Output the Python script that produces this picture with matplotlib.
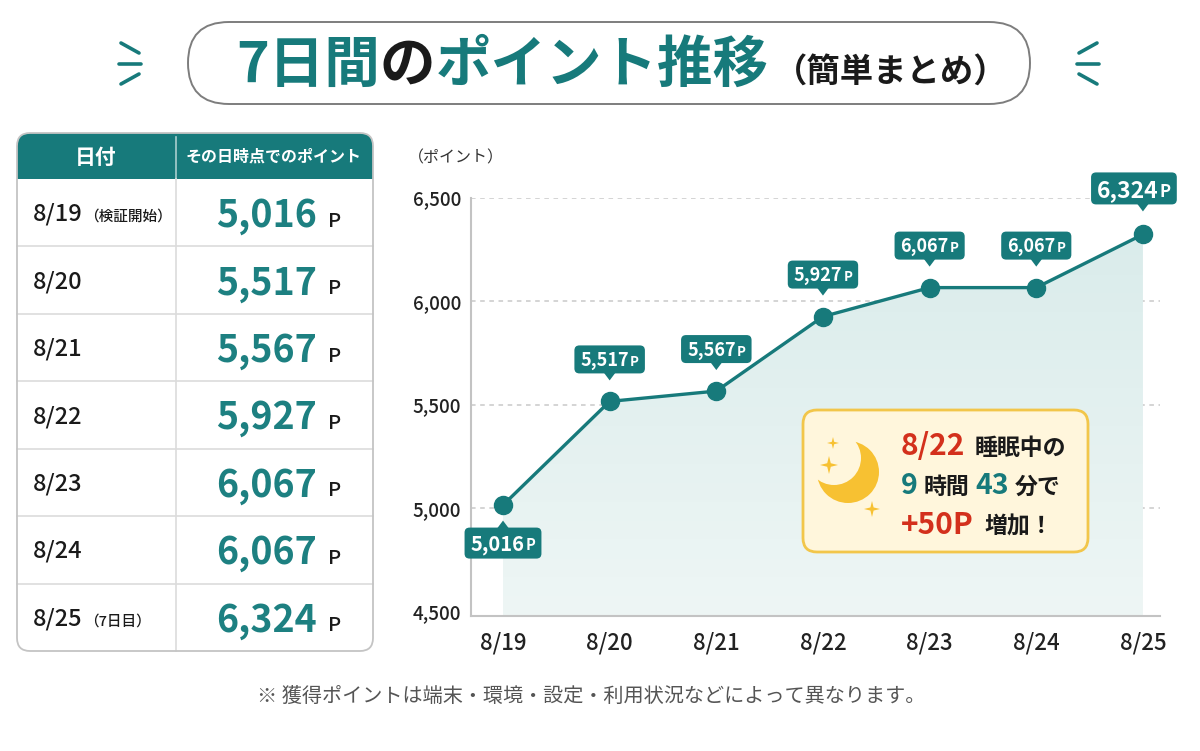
import matplotlib
matplotlib.use('Agg')
import matplotlib.pyplot as plt
from matplotlib.patches import FancyBboxPatch, Polygon, Circle, Rectangle
from matplotlib.colors import LinearSegmentedColormap
import numpy as np

plt.rcParams['font.family'] = ['Noto Sans CJK JP', 'DejaVu Sans']

# ---------------- data ----------------
dates = ['8/19', '8/20', '8/21', '8/22', '8/23', '8/24', '8/25']
points = [5016, 5517, 5567, 5927, 6067, 6067, 6324]
date_notes = ['（検証開始）', '', '', '', '', '', '（7日目）']
yticks = [4500, 5000, 5500, 6000, 6500]
ytick_labels = ['4,500', '5,000', '5,500', '6,000', '6,500']
title_parts = ['7日間', 'の', 'ポイント推移', '（簡単まとめ）']
table_headers = ['日付', 'その日時点でのポイント']
y_unit = '（ポイント）'
note_lines = [['8/22', '睡眠中の'], ['9', '時間', '43', '分で'], ['+50P', '増加！']]
footnote = '※ 獲得ポイントは端末・環境・設定・利用状況などによって異なります。'

TEAL = '#177a7b'
TEAL2 = '#1d8081'
BLACK = '#1a1a1a'
RED = '#d3301c'
W, H = 1200, 751

fig = plt.figure(figsize=(12, 7.51), dpi=100)
fig.patch.set_facecolor('white')


def px_rect(x0, y0, x1, y1):
    return [x0 / W, 1 - y1 / H, (x1 - x0) / W, (y1 - y0) / H]


ax = fig.add_axes(px_rect(471, 198, 1160, 616))
ov = fig.add_axes([0, 0, 1, 1])
ov.set_xlim(0, W)
ov.set_ylim(H, 0)
ov.axis('off')
ov.set_zorder(5)

R = fig.canvas.get_renderer()


def seq(pieces, x, y, align='left', draw=True):
    ts = []
    for p in pieces:
        s, c, sz, w = p[:4]
        gap = p[4] if len(p) > 4 else 0
        t = ov.text(0, y, s, color=c, fontsize=sz, fontweight=w,
                    va='baseline', ha='left', zorder=20)
        ts.append((t, t.get_window_extent(R).width, gap))
    total = sum(w + g for _, w, g in ts) - ts[-1][2]
    if align == 'center':
        x0 = x - total / 2
    elif align == 'right':
        x0 = x - total
    else:
        x0 = x
    for t, w, g in ts:
        t.set_x(x0)
        x0 += w + g
        if not draw:
            t.remove()
    return total


# ---------------- title ----------------
ov.add_patch(FancyBboxPatch((188, 22), 842, 82,
                            boxstyle='round,pad=0,rounding_size=41',
                            fc='white', ec='#7d7d7d', lw=1.4, zorder=2))
seq([(title_parts[0], TEAL, 40, 'bold'),
     (title_parts[1], BLACK, 40, 'bold'),
     (title_parts[2], TEAL, 40, 'bold', 6),
     (title_parts[3], BLACK, 24, 'bold')], 622, 82, 'center')

for sgn, xc in [(1, 130), (-1, 1088)]:
    ov.plot([xc - sgn * 9, xc + sgn * 9], [43, 53], color=TEAL, lw=2.6,
            solid_capstyle='round')
    ov.plot([xc - sgn * 11, xc + sgn * 11], [64, 64], color=TEAL, lw=2.6,
            solid_capstyle='round')
    ov.plot([xc - sgn * 9, xc + sgn * 9], [84, 74], color=TEAL, lw=2.6,
            solid_capstyle='round')

# ---------------- table ----------------
tx0, tx1, ty0, ty1 = 17, 373, 133, 651
hy = 179
colx = 176
ov.add_patch(FancyBboxPatch((tx0, ty0), tx1 - tx0, ty1 - ty0,
                            boxstyle='round,pad=0,rounding_size=13',
                            fc='white', ec='none', zorder=2))
ov.add_patch(FancyBboxPatch((tx0, ty0), tx1 - tx0, 40,
                            boxstyle='round,pad=0,rounding_size=13',
                            fc=TEAL, ec='none', zorder=3))
ov.add_patch(Rectangle((tx0, ty0 + 20), tx1 - tx0, hy - ty0 - 20,
                       fc=TEAL, ec='none', zorder=3))
ov.plot([colx, colx], [ty0 + 4, hy], color='#a9cfcf', lw=1.2, zorder=4)
nrow = len(dates)
rh = (ty1 - hy) / nrow
for k in range(1, nrow):
    ov.plot([tx0, tx1], [hy + k * rh] * 2, color='#dcdcdc', lw=1.2, zorder=4)
ov.plot([colx, colx], [hy, ty1], color='#dcdcdc', lw=1.2, zorder=4)
ov.add_patch(FancyBboxPatch((tx0, ty0), tx1 - tx0, ty1 - ty0,
                            boxstyle='round,pad=0,rounding_size=13',
                            fc='none', ec='#c4c4c4', lw=1.3, zorder=6))
ov.text(96, 157, table_headers[0], color='white', fontsize=15,
        fontweight='bold', ha='center', va='center', zorder=7)
ov.text(274, 157, table_headers[1], color='white', fontsize=11.5,
        fontweight='bold', ha='center', va='center', zorder=7)

for i, (d, v, n) in enumerate(zip(dates, points, date_notes)):
    cy = hy + (i + 0.5) * rh
    pieces = [(d, BLACK, 17, 'medium', 1)]
    if n:
        pieces.append((n, BLACK, 10.5, 'medium'))
    seq(pieces, 33, cy + 8, 'left')
    seq([(f'{v:,}', TEAL2, 27, 'bold', 11), ('P', BLACK, 14.5, 'medium')],
        341, cy + 14, 'right')

# ---------------- chart ----------------
x = np.arange(len(dates))
ymin = 4480
ax.set_xlim(-0.3, 6.16)
ax.set_ylim(ymin, 6500)
for v in yticks[1:]:
    ax.axhline(v, color='#c9c9c9', lw=1.1, ls=(0, (3, 3)), zorder=0)

poly = ax.fill_between(x, points, ymin, color='none', lw=0)
grad = np.linspace(0, 1, 256).reshape(-1, 1)
cmap = LinearSegmentedColormap.from_list('g', ['#eef6f5', '#d8ebea'])
im = ax.imshow(grad, extent=[x[0], x[-1], ymin, 6500], aspect='auto',
               origin='lower', cmap=cmap, zorder=1)
im.set_clip_path(poly.get_paths()[0], transform=ax.transData)

ax.plot(x, points, color=TEAL, lw=2.4, marker='o', ms=13, zorder=4,
        clip_on=False)

for side in ['top', 'right']:
    ax.spines[side].set_visible(False)
for side in ['left', 'bottom']:
    ax.spines[side].set_color('#c3c3c3')
    ax.spines[side].set_linewidth(1.5)
ax.set_yticks(yticks, ytick_labels)
ax.set_xticks(x, dates)
ax.tick_params(axis='y', length=0, pad=7, labelsize=13.5,
               labelcolor='#222222')
ax.tick_params(axis='x', length=0, pad=11, labelsize=16,
               labelcolor='#222222')
for lab in ax.get_xticklabels() + ax.get_yticklabels():
    lab.set_fontweight('medium')
ax.set_facecolor('white')

ov.text(408, 158, y_unit, color='#333333', fontsize=11.5, ha='left',
        va='center')

# point labels
for i, v in enumerate(points):
    dx, dy = ax.transData.transform((x[i], v))
    px, py = dx, H - dy
    if i == 0:
        fs, fp, bh, off = 14.5, 10.5, 31, 38
    elif i == len(points) - 1:
        fs, fp, bh, off = 16.5, 12, 32, -46
    else:
        fs, fp, bh, off = 13, 9.5, 28, -42
    cx = px - 9 if i == len(points) - 1 else px
    cy = py + off
    txt = [(f'{v:,}', 'white', fs, 'bold', 1), ('P', 'white', fp, 'bold')]
    bw = seq(txt, 0, -100, 'left', draw=False) + 12
    ov.add_patch(FancyBboxPatch((cx - bw / 2, cy - bh / 2), bw, bh,
                                boxstyle='round,pad=0,rounding_size=5',
                                fc=TEAL, ec='none', zorder=10))
    if off > 0:
        tri = [(px - 6, cy - bh / 2 + 1), (px + 6, cy - bh / 2 + 1),
               (px, cy - bh / 2 - 7)]
    else:
        tri = [(px - 6, cy + bh / 2 - 1), (px + 6, cy + bh / 2 - 1),
               (px, cy + bh / 2 + 7)]
    ov.add_patch(Polygon(tri, closed=True, fc=TEAL, ec='none', zorder=10))
    seq(txt, cx, cy + fs * 1.389 * 0.36, 'center')

# ---------------- note box ----------------
BOXBG = '#fff6dc'
ov.add_patch(FancyBboxPatch((803, 410), 285, 142,
                            boxstyle='round,pad=0,rounding_size=14',
                            fc=BOXBG, ec='#f2c64a', lw=2, zorder=8))
ov.add_patch(Circle((848, 472), 31, fc='#f7c132', ec='none', zorder=9))
ov.add_patch(Circle((834, 458), 27, fc=BOXBG, ec='none', zorder=9))


def star(cx, cy, r):
    pts = []
    for k in range(8):
        a = np.pi / 2 + k * np.pi / 4
        rr = r if k % 2 == 0 else r * 0.28
        pts.append((cx + rr * np.cos(a), cy - rr * np.sin(a)))
    ov.add_patch(Polygon(pts, closed=True, fc='#f7c132', ec='none',
                         zorder=9))


star(833, 443, 6)
star(829, 465, 9)
star(872, 509, 8)

seq([(note_lines[0][0], RED, 21.5, 'bold', 9),
     (note_lines[0][1], BLACK, 16.5, 'bold')], 901, 455)
seq([(note_lines[1][0], TEAL, 20.5, 'bold', 6),
     (note_lines[1][1], BLACK, 16.5, 'bold', 6),
     (note_lines[1][2], TEAL, 20.5, 'bold', 6),
     (note_lines[1][3], BLACK, 16.5, 'bold')], 901, 494)
seq([(note_lines[2][0], RED, 21.5, 'bold', 11),
     (note_lines[2][1], BLACK, 16.5, 'bold')], 901, 534)

# ---------------- footnote ----------------
ov.text(591, 696, footnote, color='#555555', fontsize=14.5, ha='center',
        va='center')

fig.savefig('out.png', dpi=100, facecolor='white')
